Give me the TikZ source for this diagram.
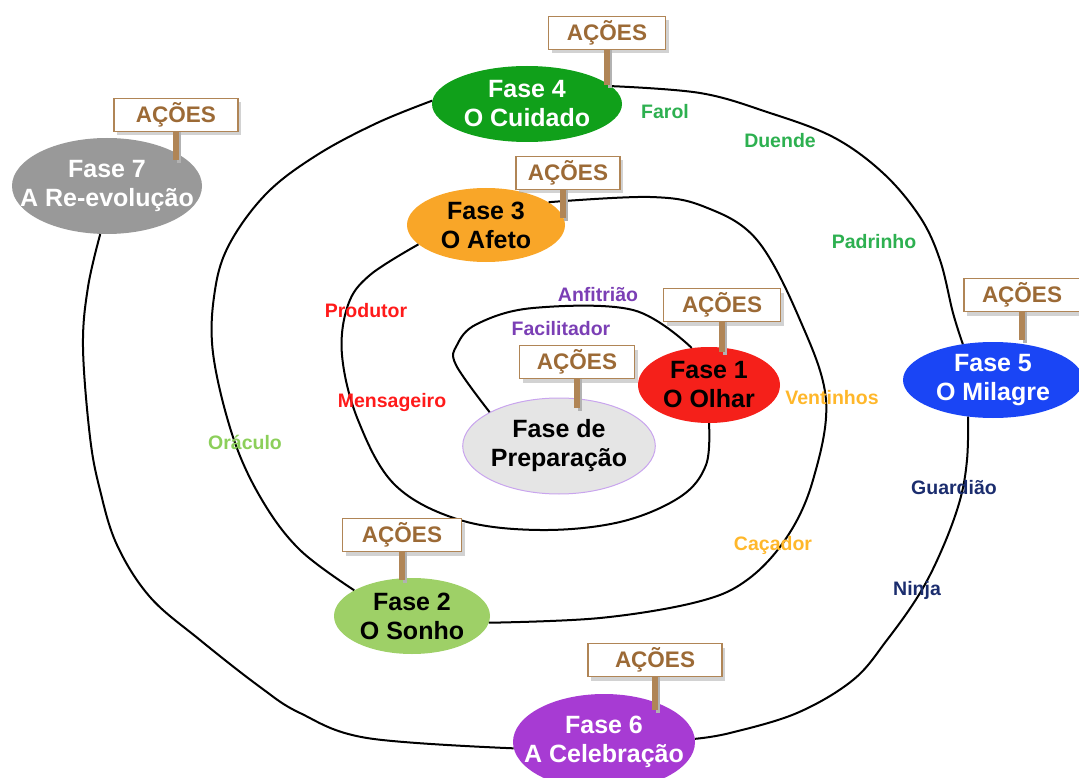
\documentclass[tikz,border=0pt]{standalone}
\usepackage{fontspec}
\setmainfont{Liberation Sans}
\usetikzlibrary{shapes.geometric,shadows}
\definecolor{cf4}{HTML}{10A01A}
\definecolor{cf3}{HTML}{F9A628}
\definecolor{cf7}{HTML}{999999}
\definecolor{cf5}{HTML}{1A45F5}
\definecolor{cf6}{HTML}{A73BD3}
\definecolor{cf2}{HTML}{9ED067}
\definecolor{cf1}{HTML}{F5201A}
\definecolor{cprep}{HTML}{E5E5E5}
\definecolor{cprepb}{HTML}{C9A5EE}
\definecolor{signbrown}{HTML}{B08556}
\definecolor{signtext}{HTML}{9C6A36}
\definecolor{rgreen}{HTML}{2DB050}
\definecolor{rpurple}{HTML}{7B3FB5}
\definecolor{rred}{HTML}{FF1A1A}
\definecolor{rlgreen}{HTML}{8CCF5A}
\definecolor{rorange}{HTML}{FFB72A}
\definecolor{rnavy}{HTML}{1B2D6E}
\begin{document}
\begin{tikzpicture}[x=1pt,y=-1pt,
  phase/.style={ellipse, inner sep=0pt, align=center, font=\bfseries\fontsize{25}{29}\selectfont},
  phasetext/.style={inner sep=0pt, align=center, font=\bfseries\fontsize{25}{29}\selectfont},
  sign/.style={rectangle, draw=signbrown, line width=1.8pt, fill=white, text=signtext,
    font=\bfseries\fontsize{22.5}{24}\selectfont, minimum height=33pt, inner sep=0pt,
    drop shadow={shadow xshift=3pt, shadow yshift=-4pt, fill=black!35}},
  post/.style={line width=6pt, draw=signbrown},
  postshadow/.style={line width=4pt, draw=black!30},
  role/.style={font=\bfseries\fontsize{19.5}{21}\selectfont},
  spiral/.style={line width=2pt, black}
]
\useasboundingbox (0,0) rectangle (1079,778);

% phases
\node[phase, fill=cprep, draw=cprepb, line width=1pt, minimum width=184pt, minimum height=96pt, text=black] (prep) at (559,446) {Fase de\\Preparação};
\node[phase, fill=cf1, minimum width=142pt, minimum height=76pt, text=black] (f1) at (709,385) {Fase 1\\O Olhar};
\node[phase, fill=cf2, minimum width=156pt, minimum height=76pt, text=black] (f2) at (412,616) {Fase 2\\O Sonho};
\node[phase, fill=cf3, minimum width=158pt, minimum height=74pt, text=black] (f3) at (486,225) {Fase 3\\O Afeto};
\node[phase, fill=cf4, minimum width=190pt, minimum height=76pt, text=white] (f4) at (527,104) {Fase 4\\O Cuidado};
\node[phase, fill=cf5, minimum width=180pt, minimum height=76pt, text=white] (f5) at (993,380) {Fase 5\\O Milagre};
\node[phase, fill=cf6, minimum width=182pt, minimum height=96pt] (f6) at (604,742) {};
\node[phasetext, text=white] (f6t) at (f6) {Fase 6\\A Celebração};
\node[phase, fill=cf7, minimum width=190pt, minimum height=96pt] (f7) at (107,186) {};
\node[phasetext, text=white] (f7t) at (f7) {Fase 7\\A Re-evolução};

% spiral
\draw[spiral] plot[smooth, tension=0.6] coordinates {(prep.154) (456,365) (457,345) (477,324) (533,308) (633,310) (f1.115)};
\draw[spiral] plot[smooth, tension=0.6] coordinates {(f1.270) (706,465) (680,497) (620,522) (540,530) (460,520) (395,485) (358,420) (342,355) (348,305) (370,275) (f3.196)};
\draw[spiral] plot[smooth, tension=0.6] coordinates {(f3.20) (650,197) (705,207) (757,240) (800,320) (826,400) (813,480) (787,537) (747,580) (697,602) (600,618) (f2.355)};
\draw[spiral] plot[smooth, tension=0.6] coordinates {(f2.156) (300,550) (262,500) (233,437) (213,353) (215,290) (230,243) (267,193) (317,155) (377,123) (f4.178)};
\draw[spiral] plot[smooth, tension=0.6] coordinates {(f4.12) (700,93) (767,112) (833,137) (883,173) (920,217) (940,260) (953,313) (f5.130)};
\draw[spiral] plot[smooth, tension=0.6] coordinates {(f5.236) (967,460) (960,500) (943,547) (920,593) (887,640) (853,680) (797,713) (730,733) (f6.2)};
\draw[spiral] plot[smooth, tension=0.6] coordinates {(f6.184) (367,738) (300,713) (260,687) (200,640) (150,597) (117,545) (100,490) (90,437) (83,347) (88,287) (f7.262)};

% signs
\node[sign, minimum width=117pt] (s4) at (607,33) {AÇÕES};
\draw[postshadow] ([xshift=3pt]s4.south) -- ++(0,38);
\draw[post] (s4.south) -- ++(0,35);
\node[sign, minimum width=124pt] (s7) at (176,115) {AÇÕES};
\draw[postshadow] ([xshift=3pt]s7.south) -- ++(0,31);
\draw[post] (s7.south) -- ++(0,28);
\node[sign, minimum width=104pt] (s3) at (568,173) {AÇÕES};
\draw[postshadow] ([xshift=-2pt]s3.south) -- ++(0,31);
\draw[post] ([xshift=-5pt]s3.south) -- ++(0,28);
\node[sign, minimum width=117pt] (s1) at (722,305) {AÇÕES};
\draw[postshadow] ([xshift=3pt]s1.south) -- ++(0,33);
\draw[post] (s1.south) -- ++(0,30);
\node[sign, minimum width=115pt] (sp) at (577,362) {AÇÕES};
\draw[postshadow] ([xshift=3pt]sp.south) -- ++(0,32);
\draw[post] (sp.south) -- ++(0,29);
\node[sign, minimum width=116pt] (s5) at (1022,295) {AÇÕES};
\draw[postshadow] ([xshift=3pt]s5.south) -- ++(0,31);
\draw[post] (s5.south) -- ++(0,28);
\node[sign, minimum width=134pt] (s6) at (655,660) {AÇÕES};
\draw[postshadow] ([xshift=3pt]s6.south) -- ++(0,36);
\draw[post] (s6.south) -- ++(0,33);
\node[sign, minimum width=119pt] (s2) at (402,535) {AÇÕES};
\draw[postshadow] ([xshift=3pt]s2.south) -- ++(0,31);
\draw[post] (s2.south) -- ++(0,28);

% roles
\node[role, text=rgreen] (farol) at (665,112) {Farol};
\node[role, text=rgreen] (duende) at (780,141) {Duende};
\node[role, text=rgreen] (padrinho) at (874,242) {Padrinho};
\node[role, text=rpurple] (anfitriao) at (598,295) {Anfitrião};
\node[role, text=rpurple] (facilitador) at (561,329) {Facilitador};
\node[role, text=rred] (produtor) at (366,311) {Produtor};
\node[role, text=rred] (mensageiro) at (392,402) {Mensageiro};
\node[role, text=rlgreen] (oraculo) at (245,442) {Oráculo};
\node[role, text=rorange] (ventinhos) at (832,398) {Ventinhos};
\node[role, text=rorange] (cacador) at (773,545) {Caçador};
\node[role, text=rnavy] (guardiao) at (954,488) {Guardião};
\node[role, text=rnavy] (ninja) at (917,590) {Ninja};
\end{tikzpicture}
\end{document}
